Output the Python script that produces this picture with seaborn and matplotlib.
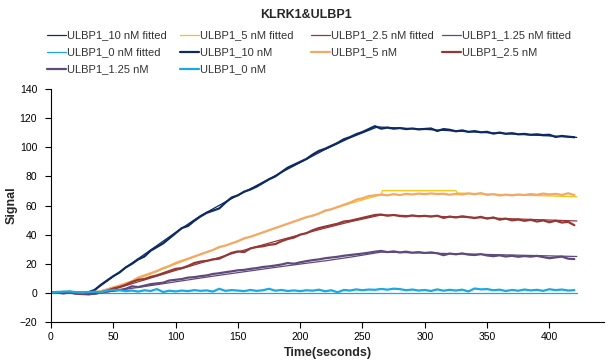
import numpy as np
import matplotlib
matplotlib.use("Agg")
import matplotlib.pyplot as plt
import seaborn as sns

sns.set_theme(style="white")
plt.rcParams['font.family'] = ['Liberation Sans', 'DejaVu Sans']

#%% Dados lidos do gráfico
# tempo das curvas medidas (passo de 5 s)
t_meas = list(range(0, 425, 5))

m10 = [0.3, 0.6, 0.2, 0.8, 0.1, 0.5, 0.4, 2.0, 5.5, 8.5,
       11.5, 14.0, 17.5, 20.0, 23.0, 25.0, 29.0, 31.5, 34.0, 37.5,
       41.0, 44.5, 46.0, 49.5, 52.5, 55.0, 56.5, 58.0, 62.0, 65.5,
       67.0, 69.5, 71.0, 73.0, 75.5, 78.0, 80.0, 83.0, 86.0, 88.0,
       90.0, 92.0, 95.0, 97.5, 99.0, 101.0, 103.0, 105.5, 107.0, 109.0,
       110.5, 112.5, 114.5, 112.8, 113.5, 112.8, 113.2, 112.5, 112.9, 112.3,
       112.6, 112.9, 111.2, 112.5, 112.0, 111.0, 111.6, 110.6, 111.1, 110.3,
       110.6, 109.4, 110.1, 109.3, 109.7, 108.9, 109.2, 108.6, 108.9, 108.4,
       108.6, 107.1, 107.8, 107.3, 106.9]

m5 = [0.5, 0.2, 0.6, 0.3, -0.2, 0.4, 0.1, 0.6, 1.2, 2.5,
      3.8, 5.0, 6.5, 8.0, 10.5, 12.0, 13.5, 15.0, 17.0, 18.5,
      20.5, 22.0, 23.5, 25.0, 26.5, 28.0, 29.5, 31.5, 32.5, 34.0,
      35.5, 37.5, 38.5, 40.0, 41.5, 43.0, 44.5, 46.0, 47.5, 49.0,
      50.5, 52.0, 53.0, 54.5, 56.5, 57.5, 59.0, 60.5, 62.0, 64.0,
      65.0, 66.5, 67.0, 67.5, 67.0, 67.8, 67.2, 68.0, 67.6, 68.2,
      67.8, 68.3, 67.9, 68.1, 67.4, 68.0, 67.6, 68.3, 67.8, 68.5,
      67.3, 67.8, 66.9, 67.5, 67.0, 67.6, 67.2, 67.9, 67.4, 68.2,
      67.6, 68.0, 67.3, 68.4, 67.2]

m2_5 = [0.2, 0.5, -0.2, 0.3, -0.5, -0.8, -1.0, -0.6, 0.3, 1.5,
        3.0, 4.0, 5.5, 7.5, 9.0, 9.5, 11.0, 12.0, 13.5, 15.0,
        16.5, 17.0, 18.5, 20.5, 21.5, 22.0, 23.0, 23.5, 25.5, 27.5,
        28.5, 28.0, 30.5, 31.5, 32.0, 33.0, 33.5, 35.5, 37.0, 38.0,
        40.0, 41.0, 43.0, 44.5, 45.5, 46.5, 47.5, 49.0, 49.5, 50.5,
        51.5, 52.5, 53.5, 53.8, 53.0, 53.5, 52.8, 52.5, 53.2, 52.6,
        52.9, 52.4, 53.0, 51.5, 52.4, 51.8, 52.6, 52.0, 51.4, 52.2,
        51.0, 51.8, 50.3, 51.0, 49.8, 50.4, 49.5, 50.2, 49.0, 49.8,
        48.5, 49.6, 48.3, 48.8, 46.5]

m1_25 = [0.4, 0.1, -0.3, 0.2, -0.4, -0.2, -0.8, -0.5, 0.2, 1.0,
         1.5, 2.0, 2.8, 4.5, 4.0, 5.0, 6.0, 6.5, 7.0, 8.5,
         9.0, 9.5, 10.5, 10.8, 11.5, 12.0, 13.0, 13.5, 14.2, 14.8,
         15.5, 15.8, 16.5, 17.0, 17.8, 18.2, 18.8, 19.5, 20.5, 20.0,
         21.0, 21.8, 22.5, 23.0, 23.8, 24.3, 24.8, 25.5, 26.0, 26.5,
         27.0, 27.6, 28.3, 28.8, 28.0, 28.5, 27.8, 28.3, 27.6, 28.0,
         27.4, 27.8, 27.2, 25.9, 27.0, 26.5, 27.1, 26.3, 26.0, 26.6,
         25.7, 25.2, 25.8, 25.0, 25.5, 24.8, 25.3, 24.9, 25.4, 24.6,
         23.8, 24.4, 24.9, 23.5, 23.2]

m0 = [0.3, 0.6, 0.9, 1.0, 0.5, 0.2, 0.6, 0.8, 0.5, 1.5,
      2.0, 1.8, 1.2, 1.6, 0.9, 1.8, 1.3, 2.6, 0.6, 1.5,
      1.0, 1.6, 1.2, 1.9, 1.4, 1.7, 0.9, 2.8, 1.4, 1.9,
      1.6, 1.2, 2.0, 1.4, 1.8, 2.8, 1.5, 2.0, 1.3, 1.7,
      1.2, 1.8, 1.5, 2.2, 1.1, 1.8, 0.4, 2.0, 1.6, 2.4,
      1.8, 2.3, 2.1, 2.7, 2.2, 2.9, 2.6, 1.8, 2.3, 1.6,
      2.0, 1.3, 2.4, 1.5, 2.1, 1.6, 2.2, 1.0, 3.0, 2.4,
      2.6, 1.8, 2.2, 1.3, 2.0, 1.5, 2.3, 1.7, 2.1, 1.4,
      2.5, 1.9, 2.3, 1.6, 1.9]

# curvas ajustadas
t_fit10 = [0, 32, 40, 60, 80, 100, 120, 140, 160, 180, 200, 220, 240, 262,
           280, 300, 320, 340, 360, 380, 400, 422]
fit10 = [0, 0, 5.0, 17.5, 29.5, 41.5, 53.0, 62.5, 71.5, 80.5, 89.5, 98.5,
         106.5, 114.0, 113.2, 112.3, 111.4, 110.5, 109.6, 108.7, 107.8, 106.8]

t_fit5 = [0, 40, 60, 80, 100, 120, 140, 160, 180, 200, 220, 240, 262, 265,
          266, 325, 326, 360, 400, 422]
fit5 = [0, 0, 6.3, 13.0, 19.8, 26.3, 32.6, 38.6, 44.6, 50.4, 56.0, 61.4,
        66.8, 67.0, 70.2, 70.2, 68.6, 67.6, 66.6, 66.0]

t_fit_low = [0, 40, 60, 80, 100, 120, 140, 160, 180, 200, 220, 240, 265,
             300, 340, 380, 422]
fit2_5 = [0, 0, 5.0, 10.2, 15.4, 20.5, 25.6, 30.6, 35.4, 40.0, 44.5, 48.8,
          53.5, 52.8, 51.8, 50.6, 49.4]
fit1_25 = [0, 0, 2.5, 5.0, 7.6, 10.2, 12.7, 15.1, 17.5, 19.8, 22.0, 24.5,
           28.0, 27.4, 26.6, 25.8, 25.0]

t_fit0 = [0, 100, 200, 300, 422]
fit0 = [0.0, 0.0, 0.0, 0.0, 0.0]

cores = {'10': '#0d2a63', '5f': '#f2c40f', '5': '#f5a865',
         '2.5': '#953735', '1.25': '#5f4a7b', '0': '#1ca8e0'}

#%% Figura
fig = plt.figure(figsize=(6.12, 3.62), dpi=100)
ax = fig.add_axes([0.0833, 0.1105, 0.904, 0.6435])

fits = [(t_fit10, fit10, cores['10'], 'ULBP1_10 nM fitted'),
        (t_fit5, fit5, cores['5f'], 'ULBP1_5 nM fitted'),
        (t_fit_low, fit2_5, cores['2.5'], 'ULBP1_2.5 nM fitted'),
        (t_fit_low, fit1_25, cores['1.25'], 'ULBP1_1.25 nM fitted'),
        (t_fit0, fit0, cores['0'], 'ULBP1_0 nM fitted')]
meas = [(m10, cores['10'], 'ULBP1_10 nM'),
        (m5, cores['5'], 'ULBP1_5 nM'),
        (m2_5, cores['2.5'], 'ULBP1_2.5 nM'),
        (m1_25, cores['1.25'], 'ULBP1_1.25 nM'),
        (m0, cores['0'], 'ULBP1_0 nM')]

for t, y, c, lab in fits:
    sns.lineplot(x=t, y=y, color=c, lw=0.9, label=lab, ax=ax, legend=False)
for y, c, lab in meas:
    sns.lineplot(x=t_meas, y=y, color=c, lw=1.6, label=lab, ax=ax, legend=False)

ax.set_xlim(0, 444)
ax.set_ylim(-20, 140)
ax.set_xticks(range(0, 401, 50))
ax.set_yticks(range(-20, 141, 20))
sns.despine(ax=ax)
for s in ['left', 'bottom']:
    ax.spines[s].set_color('black')
    ax.spines[s].set_linewidth(0.8)
ax.tick_params(axis='both', direction='out', length=4, width=0.8,
               labelsize=7.5, colors='black', left=True, bottom=True, pad=3)
ax.tick_params(axis='y', pad=6)
ax.set_xlabel("Time(seconds)", fontsize=9, fontweight='bold', labelpad=4)
ax.set_ylabel("Signal", fontsize=9, fontweight='bold', labelpad=1)

fig.suptitle("KLRK1&ULBP1", fontsize=9, fontweight='bold', y=0.975, x=0.5)

# legenda em 4 colunas de largura igual, preenchida por linhas
h, l = ax.get_legend_handles_labels()
col_x = [47, 180, 311, 442]
for j, x in enumerate(col_x):
    idx = list(range(j, len(h), 4))
    fig.legend([h[i] for i in idx], [l[i] for i in idx], ncol=1,
               loc='upper left', bbox_to_anchor=(x / 612, 0.916),
               frameon=False, fontsize=8, labelcolor='#333333',
               handlelength=1.7, handletextpad=0.1,
               labelspacing=0.63, borderpad=0, borderaxespad=0)

fig.savefig("out.png", dpi=100)
